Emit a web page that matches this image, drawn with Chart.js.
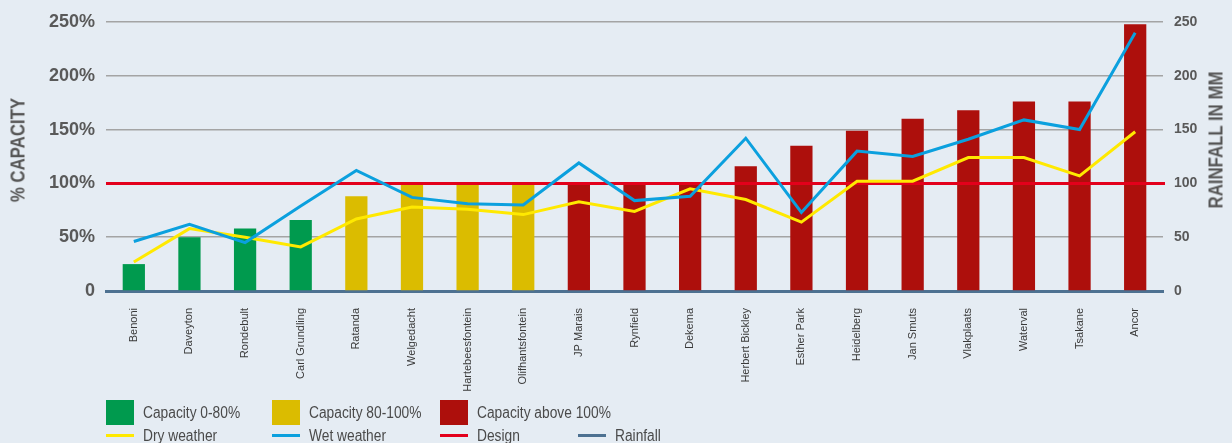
<!DOCTYPE html>
<html>
<head>
<meta charset="utf-8">
<title>Plant capacity and rainfall</title>
<script src="https://cdn.jsdelivr.net/npm/chart.js@4.4.1/dist/chart.umd.min.js"></script>
<style>
    html, body { margin: 0; padding: 0; background: #e5ecf3; }
    .wrap { position: relative; width: 1232px; height: 443px; overflow: hidden; background: #e5ecf3; }
    #capacityChart { position: absolute; left: 0; top: 0; }
    .axis-title {
        position: absolute;
        font-family: 'Liberation Sans', Arial, sans-serif;
        font-weight: bold;
        font-size: 20px;
        color: #555;
        white-space: nowrap;
        transform: translate(-50%, -50%) rotate(-90deg) scaleX(0.84);
    }
    .legend-item {
        position: absolute;
        font-family: 'Liberation Sans', Arial, sans-serif;
        font-size: 16px;
        color: #4a4a4a;
        white-space: nowrap;
    }
    .legend-item .swatch { position: absolute; left: 0; }
    .legend-item span {
        position: absolute; left: 37px; top: 50%;
        transform-origin: left center;
        transform: translateY(-50%) scaleX(0.86);
    }
</style>
</head>
<body>
<div class="wrap">
    <canvas id="capacityChart" width="1232" height="443"></canvas>
    <div class="axis-title" style="left:18px; top:150px;">% CAPACITY</div>
    <div class="axis-title" style="left:1216px; top:140px;">RAINFALL IN MM</div>
    <div id="legend"></div>
</div>
<script>
// Treatment works, sorted by capacity
const sites = ['Benoni', 'Daveyton', 'Rondebult', 'Carl Grundling', 'Ratanda', 'Welgedacht',
    'Hartebeesfontein', 'Olifhantsfontein', 'JP Marais', 'Rynfield', 'Dekema', 'Herbert Bickley',
    'Esther Park', 'Heidelberg', 'Jan Smuts', 'Vlakplaats', 'Waterval', 'Tsakane', 'Ancor'];

// % of design capacity used
const capacity = [25, 50, 58, 66, 88, 99, 100, 100, 100, 100, 100, 116, 135, 149, 160, 168, 176, 176, 248];

// capacity band per site
const band = ['low', 'low', 'low', 'low', 'mid', 'mid', 'mid', 'mid', 'high', 'high',
    'high', 'high', 'high', 'high', 'high', 'high', 'high', 'high', 'high'];

// flow during dry and wet weather (% of design)
const dryWeather = [27, 58, 50, 41, 67, 78, 76, 71, 83, 74, 95, 85, 64, 102, 102, 124, 124, 107, 148];
const wetWeather = [46, 62, 45, 79, 112, 87, 81, 80, 119, 84, 88, 142, 73, 130, 125, 141, 159, 150, 240];

const designLevel = 100;
const leftTicks = [0, 50, 100, 150, 200, 250];
const rightTicks = [0, 50, 100, 150, 200, 250];

const bandColors = { low: '#009a4e', mid: '#dbbc00', high: '#ad0f0c' };
const dryColor = '#ffe900';
const wetColor = '#0ba0de';
const designColor = '#e3001b';
const rainfallColor = '#4d7191';

const tickFont = 'Liberation Sans';

// Red design line across the full plot width, drawn over the bars but under the flow lines
const designLine = {
    id: 'designLine',
    afterDatasetDraw(chart, args) {
        if (args.index !== 0) return;
        const { ctx, chartArea } = chart;
        const y = chart.scales.y.getPixelForValue(designLevel);
        ctx.save();
        ctx.strokeStyle = designColor;
        ctx.lineWidth = 3;
        ctx.beginPath();
        ctx.moveTo(chartArea.left, y);
        ctx.lineTo(chartArea.right + 2, y);
        ctx.stroke();
        ctx.restore();
    }
};

const ctx = document.getElementById('capacityChart');
new Chart(ctx, {
    data: {
        labels: sites,
        datasets: [
            {
                type: 'bar',
                label: 'Capacity',
                data: capacity,
                backgroundColor: band.map(b => bandColors[b]),
                categoryPercentage: 1,
                barPercentage: 0.4,
                yAxisID: 'y',
                order: 3
            },
            {
                type: 'line',
                label: 'Dry weather',
                data: dryWeather,
                borderColor: dryColor,
                borderWidth: 3,
                pointRadius: 0,
                tension: 0,
                yAxisID: 'y',
                order: 2
            },
            {
                type: 'line',
                label: 'Wet weather',
                data: wetWeather,
                borderColor: wetColor,
                borderWidth: 3,
                pointRadius: 0,
                tension: 0,
                yAxisID: 'y',
                order: 1
            }
        ]
    },
    options: {
        responsive: false,
        animation: false,
        layout: { padding: { top: 22, left: 0, right: 0, bottom: 0 } },
        plugins: {
            legend: { display: false },
            tooltip: { enabled: false }
        },
        scales: {
            x: {
                offset: true,
                grid: { display: false },
                border: { display: true, color: rainfallColor, width: 3 },
                ticks: {
                    minRotation: 90,
                    maxRotation: 90,
                    autoSkip: false,
                    padding: 9,
                    color: '#3a3a3a',
                    font: { family: 'Liberation Sans', size: 11 }
                },
                afterFit(scale) { scale.height = 152; }
            },
            y: {
                position: 'left',
                min: 0,
                max: 250,
                afterBuildTicks(scale) { scale.ticks = leftTicks.map(v => ({ value: v })); },
                grid: {
                    color: '#a4a4a4',
                    lineWidth: 1.5,
                    drawTicks: false
                },
                border: { display: false },
                ticks: {
                    padding: 11,
                    color: '#595959',
                    font: { family: tickFont, size: 18, weight: 'bold' },
                    callback: v => v === 0 ? '0' : v + '%'
                },
                afterFit(scale) { scale.width = 106; }
            },
            y2: {
                position: 'right',
                min: 0,
                max: 250,
                afterBuildTicks(scale) { scale.ticks = rightTicks.map(v => ({ value: v })); },
                grid: { display: false, drawTicks: false },
                border: { display: false },
                ticks: {
                    padding: 11,
                    color: '#595959',
                    font: { family: tickFont, size: 14, weight: 'bold' }
                },
                afterFit(scale) { scale.width = 69; }
            }
        }
    },
    plugins: [designLine]
});

// Legend underneath the chart
const legendItems = [
    { label: 'Capacity 0-80%', kind: 'box', color: bandColors.low, x: 106, y: 400 },
    { label: 'Capacity 80-100%', kind: 'box', color: bandColors.mid, x: 272, y: 400 },
    { label: 'Capacity above 100%', kind: 'box', color: bandColors.high, x: 440, y: 400 },
    { label: 'Dry weather', kind: 'line', color: dryColor, x: 106, y: 426 },
    { label: 'Wet weather', kind: 'line', color: wetColor, x: 272, y: 426 },
    { label: 'Design', kind: 'line', color: designColor, x: 440, y: 426 },
    { label: 'Rainfall', kind: 'line', color: rainfallColor, x: 578, y: 426 }
];

const legend = document.getElementById('legend');
legendItems.forEach(item => {
    const el = document.createElement('div');
    el.className = 'legend-item';
    el.style.left = item.x + 'px';
    el.style.top = item.y + 'px';
    el.style.height = (item.kind === 'box' ? 25 : 20) + 'px';
    el.style.width = '200px';
    const sw = document.createElement('div');
    sw.className = 'swatch';
    sw.style.background = item.color;
    sw.style.width = '28px';
    if (item.kind === 'box') {
        sw.style.top = '0px';
        sw.style.height = '25px';
    } else {
        sw.style.top = '8px';
        sw.style.height = '3px';
    }
    const txt = document.createElement('span');
    txt.textContent = item.label;
    el.appendChild(sw);
    el.appendChild(txt);
    legend.appendChild(el);
});
</script>
</body>
</html>
